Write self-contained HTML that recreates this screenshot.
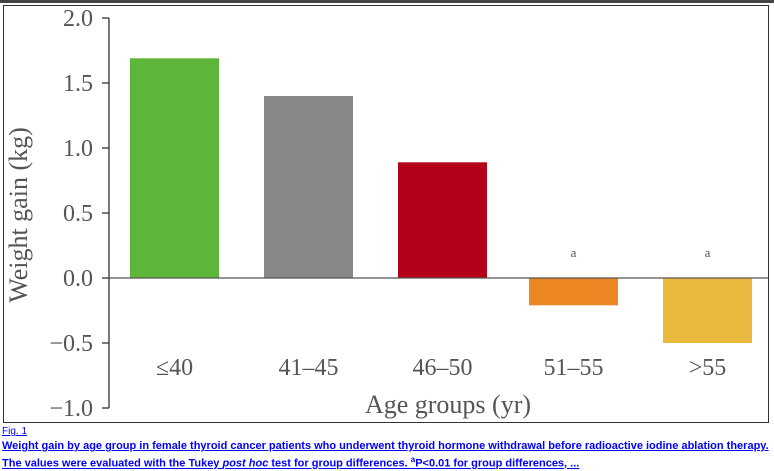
<!DOCTYPE html>
<html><head><meta charset="utf-8"><style>
body{margin:0;background:#fff;width:774px;height:467px;overflow:hidden;position:relative;font-family:"Liberation Sans",sans-serif}
.cap{position:absolute;left:2px;font-size:11px;color:#00f;text-decoration:underline;font-weight:bold;line-height:14px}
</style></head><body>
<div style="position:absolute;left:0;top:0;width:774px;height:3px;background:#444"></div>
<svg width="774" height="425" style="position:absolute;left:0;top:0" font-family="Liberation Serif, serif">
<rect x="3.5" y="5.5" width="765" height="417" fill="#fff" stroke="#333" stroke-width="1"/>
<g id="g"></g>
</svg>
<div class="cap" style="top:425px;font-weight:normal;font-size:10px">Fig. 1</div>
<div class="cap" style="top:439px;width:770px">Weight gain by age group in female thyroid cancer patients who underwent thyroid hormone withdrawal before radioactive iodine ablation therapy. The values were evaluated with the Tukey <i>post hoc</i> test for group differences. <sup style="font-size:8px">a</sup>P&lt;0.01 for group differences, ...</div>
<script>
const categories=["≤40","41–45","46–50","51–55",">55"];
const values=[1.69,1.40,0.89,-0.21,-0.50];
const marks=["","","","a","a"];
const colors=["#5db53a","#868789","#b5001a","#ec8622","#e8b93c"];
const ticks=[2.0,1.5,1.0,0.5,0.0,-0.5,-1.0];
const NS="http://www.w3.org/2000/svg";
const g=document.getElementById('g');
const y=v=>278-v*130;
const x0=[130,264,398,529,663],bw=89;
function el(t,a,txt){const e=document.createElementNS(NS,t);for(const k in a)e.setAttribute(k,a[k]);if(txt!==undefined)e.textContent=txt;g.appendChild(e);return e;}
const ax=el('line',{x1:109,x2:109,y1:y(2),y2:y(-1),stroke:'#333','stroke-width':1.3});


ticks.forEach(t=>{
 const l=el('line',{x1:102,x2:109,y1:y(t),y2:y(t),stroke:'#333','stroke-width':1.3});
 
 
 const s=el('text',{x:93,y:y(t)+8,'text-anchor':'end','font-size':24,fill:'#555'},(t<0?'−':'')+Math.abs(t).toFixed(1));
 
 
});
categories.forEach((c,i)=>{
 const v=values[i];
 const r=el('rect',{x:x0[i],width:bw,y:Math.min(y(v),y(0)),height:Math.abs(y(v)-y(0)),fill:colors[i]});
 
 
 const t=el('text',{x:x0[i]+bw/2,y:375,'text-anchor':'middle','font-size':24,fill:'#555'},c);
 
 
 if(marks[i]){const m=el('text',{x:x0[i]+bw/2,y:257,'text-anchor':'middle','font-size':13,fill:'#555'},marks[i]);
 
 }
});
const z=el('line',{x1:109,x2:768,y1:y(0),y2:y(0),stroke:'#555','stroke-width':1.2});


const xt=el('text',{x:448,y:413,'text-anchor':'middle','font-size':26,fill:'#555'},'Age groups (yr)');


const yt=el('text',{x:0,y:0,'text-anchor':'middle','font-size':26,fill:'#555',transform:'translate(27,215) rotate(-90)'},'Weight gain (kg)');


</script>
</body></html>
